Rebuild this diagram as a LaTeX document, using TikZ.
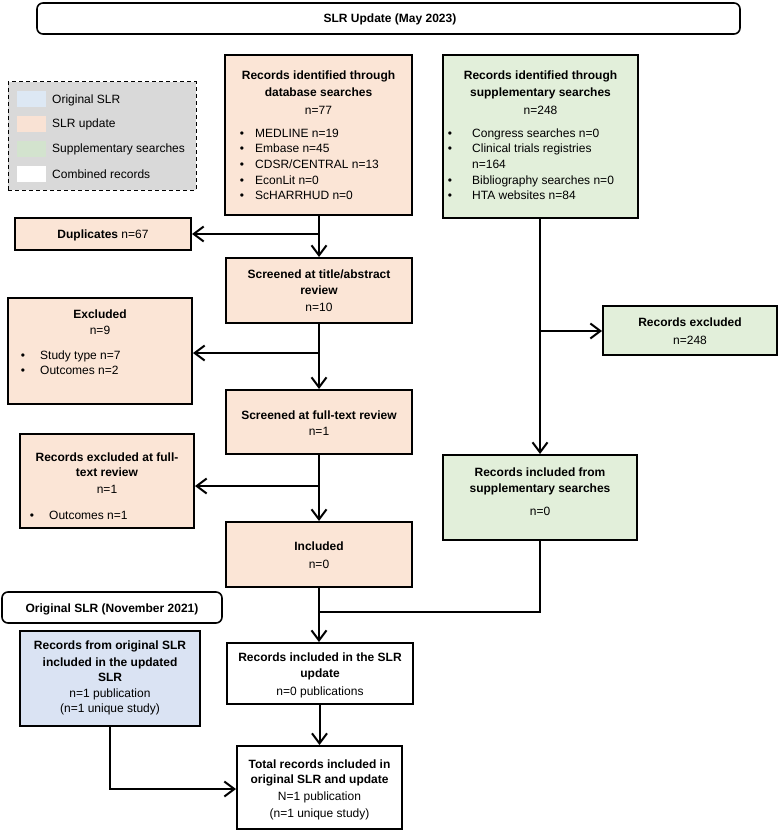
\documentclass[tikz,border=0pt]{standalone}
\usepackage{fontspec}
\setmainfont{Liberation Sans}
\usetikzlibrary{arrows.meta}
\definecolor{peach}{HTML}{FBE5D6}
\definecolor{sgreen}{HTML}{E2EFDA}
\definecolor{oblue}{HTML}{DAE3F3}
\definecolor{leggray}{HTML}{D9D9D9}
\definecolor{legblue}{HTML}{DDE8F4}
\definecolor{legpeach}{HTML}{F9E2D4}
\definecolor{leggreen}{HTML}{D3E3CE}
\tikzset{
  box/.style={draw, line width=2pt, inner sep=0pt},
  tbox/.style={draw, line width=1.6pt, rounded corners=6pt, fill=white, inner sep=0pt},
  swatch/.style={inner sep=0pt, minimum width=29pt, minimum height=16pt},
  txt/.style={inner sep=0pt, anchor=base, font=\fontsize{12}{14}\selectfont},
  bt/.style={txt, font=\fontsize{12}{14}\selectfont\bfseries},
  lt/.style={txt, anchor=base west},
  bul/.style={txt},
  conn/.style={line width=2pt},
  arr/.style={line width=2pt, -{Straight Barb[length=10pt,width=15pt]}}
}
\begin{document}
\begin{tikzpicture}[x=1pt,y=-1pt]
\useasboundingbox (0,0) rectangle (778,832);

% title
\node[tbox, minimum width=703pt, minimum height=31pt] (title) at (388.5,18.5) {};
\node[bt] (titletxt) at (390,22.5) {SLR Update (May 2023)};

% legend
\node[draw, dashed, dash pattern=on 4pt off 3pt, line width=1pt, fill=leggray, inner sep=0pt,
      minimum width=188pt, minimum height=108pt] (legend) at (102,136) {};
\node[swatch, fill=legblue] (sw1) at (31.5,99) {};
\node[swatch, fill=legpeach] (sw2) at (31.5,124) {};
\node[swatch, fill=leggreen] (sw3) at (31.5,149) {};
\node[swatch, fill=white] (sw4) at (31.5,174) {};
\node[lt] (lg1) at (52,103) {Original SLR};
\node[lt] (lg2) at (52,128) {SLR update};
\node[lt] (lg3) at (52,153) {Supplementary searches};
\node[lt] (lg4) at (52,178) {Combined records};

% database box
\node[box, fill=peach, minimum width=187pt, minimum height=160pt] (db) at (318.5,135) {};
\node[bt] (db1) at (318.5,80) {Records identified through};
\node[bt] (db2) at (318.5,97) {database searches};
\node[txt] (db3) at (318.5,115) {n=77};
\node[bul] (dbb1) at (242,137) {\textbullet};
\node[bul] (dbb2) at (242,153) {\textbullet};
\node[bul] (dbb3) at (242,168) {\textbullet};
\node[bul] (dbb4) at (242,184) {\textbullet};
\node[bul] (dbb5) at (242,199) {\textbullet};
\node[lt] (dbl1) at (255,137) {MEDLINE n=19};
\node[lt] (dbl2) at (255,153) {Embase n=45};
\node[lt] (dbl3) at (255,168) {CDSR/CENTRAL n=13};
\node[lt] (dbl4) at (255,184) {EconLit n=0};
\node[lt] (dbl5) at (255,199) {ScHARRHUD n=0};

% supplementary box
\node[box, fill=sgreen, minimum width=195pt, minimum height=163pt] (supp) at (540.5,136.5) {};
\node[bt] (sp1) at (540.5,80) {Records identified through};
\node[bt] (sp2) at (540.5,97) {supplementary searches};
\node[txt] (sp3) at (540.5,115) {n=248};
\node[bul] (spb1) at (450,137) {\textbullet};
\node[bul] (spb2) at (450,153) {\textbullet};
\node[bul] (spb4) at (450,184) {\textbullet};
\node[bul] (spb5) at (450,199) {\textbullet};
\node[lt] (spl1) at (472,137) {Congress searches n=0};
\node[lt] (spl2) at (472,153) {Clinical trials registries};
\node[lt] (spl3) at (472,168) {n=164};
\node[lt] (spl4) at (472,184) {Bibliography searches n=0};
\node[lt] (spl5) at (472,199) {HTA websites n=84};

% duplicates
\node[box, fill=peach, minimum width=176pt, minimum height=32pt] (dup) at (103,234) {};
\node[txt] (dupt) at (103,238.5) {\textbf{Duplicates} n=67};

% title/abstract
\node[box, fill=peach, minimum width=186pt, minimum height=65pt] (ta) at (319,290.5) {};
\node[bt] (ta1) at (319,278) {Screened at title/abstract};
\node[bt] (ta2) at (319,294) {review};
\node[txt] (ta3) at (319,311) {n=10};

% excluded
\node[box, fill=peach, minimum width=184pt, minimum height=106pt] (exc) at (100,351) {};
\node[bt] (exc1) at (100,318) {Excluded};
\node[txt] (exc2) at (100,334) {n=9};
\node[bul] (excb1) at (23,359) {\textbullet};
\node[bul] (excb2) at (23,374) {\textbullet};
\node[lt] (excl1) at (40,359) {Study type n=7};
\node[lt] (excl2) at (40,374) {Outcomes n=2};

% full-text
\node[box, fill=peach, minimum width=186pt, minimum height=64pt] (ft) at (319,422) {};
\node[bt] (ft1) at (319,419) {Screened at full-text review};
\node[txt] (ft2) at (319,435) {n=1};

% excluded at full-text
\node[box, fill=peach, minimum width=174pt, minimum height=94pt] (ftex) at (107,481) {};
\node[bt] (fx1) at (107,461) {Records excluded at full-};
\node[bt] (fx2) at (107,476) {text review};
\node[txt] (fx3) at (107,493) {n=1};
\node[bul] (fxb1) at (32,519) {\textbullet};
\node[lt] (fxl1) at (49,519) {Outcomes n=1};

% included
\node[box, fill=peach, minimum width=186pt, minimum height=65pt] (inc) at (319,554.5) {};
\node[bt] (inc1) at (319,550) {Included};
\node[txt] (inc2) at (319,568) {n=0};

% records excluded (green)
\node[box, fill=sgreen, minimum width=174pt, minimum height=49pt] (rex) at (690,330.5) {};
\node[bt] (rex1) at (690,326) {Records excluded};
\node[txt] (rex2) at (690,344) {n=248};

% supplementary included
\node[box, fill=sgreen, minimum width=194pt, minimum height=85pt] (supinc) at (540,497.5) {};
\node[bt] (si1) at (540,476) {Records included from};
\node[bt] (si2) at (540,492) {supplementary searches};
\node[txt] (si3) at (540,515) {n=0};

% original SLR title
\node[tbox, minimum width=220pt, minimum height=31pt] (otitle) at (112,607.5) {};
\node[bt] (ot1) at (112,612) {Original SLR (November 2021)};

% original SLR records
\node[box, fill=oblue, minimum width=180pt, minimum height=95pt] (orig) at (110,678.5) {};
\node[bt] (or1) at (110,649) {Records from original SLR};
\node[bt] (or2) at (110,666) {included in the updated};
\node[bt] (or3) at (110,681) {SLR};
\node[txt] (or4) at (110,697) {n=1 publication};
\node[txt] (or5) at (110,712) {(n=1 unique study)};

% SLR update records
\node[box, fill=white, minimum width=186pt, minimum height=61pt] (upd) at (320,673.5) {};
\node[bt] (up1) at (320,661) {Records included in the SLR};
\node[bt] (up2) at (320,677) {update};
\node[txt] (up3) at (320,695) {n=0 publications};

% total
\node[box, fill=white, minimum width=165pt, minimum height=83pt] (tot) at (319.5,787.5) {};
\node[bt] (to1) at (319.5,768) {Total records included in};
\node[bt] (to2) at (319.5,783) {original SLR and update};
\node[txt] (to3) at (319.5,800) {N=1 publication};
\node[txt] (to4) at (319.5,817) {(n=1 unique study)};

% connectors
\coordinate (j1) at (319,234);
\coordinate (j2) at (319,353);
\coordinate (j3) at (319,486);
\coordinate (j4) at (540,331);
\coordinate (j5) at (540,612);
\coordinate (j6) at (319,612);
\coordinate (j7) at (110,789);

\draw[arr] (db.south -| j1) -- (ta.north -| j1);
\draw[arr] (j1) -- (dup.east);
\draw[arr] (ta.south) -- (ft.north);
\draw[arr] (j2) -- (exc.east |- j2);
\draw[arr] (ft.south) -- (inc.north);
\draw[arr] (j3) -- (ftex.east |- j3);
\draw[arr] (supp.south -| j4) -- (supinc.north -| j4);
\draw[arr] (j4) -- (rex.west |- j4);
\draw[conn] (supinc.south -| j5) -- (j5) -- (j6);
\draw[arr] (inc.south) -- (upd.north -| inc.south);
\draw[arr] (upd.south -| tot.north) -- (tot.north);
\draw[arr] (orig.south) -- (j7) -- (tot.west |- j7);
\end{tikzpicture}
\end{document}
